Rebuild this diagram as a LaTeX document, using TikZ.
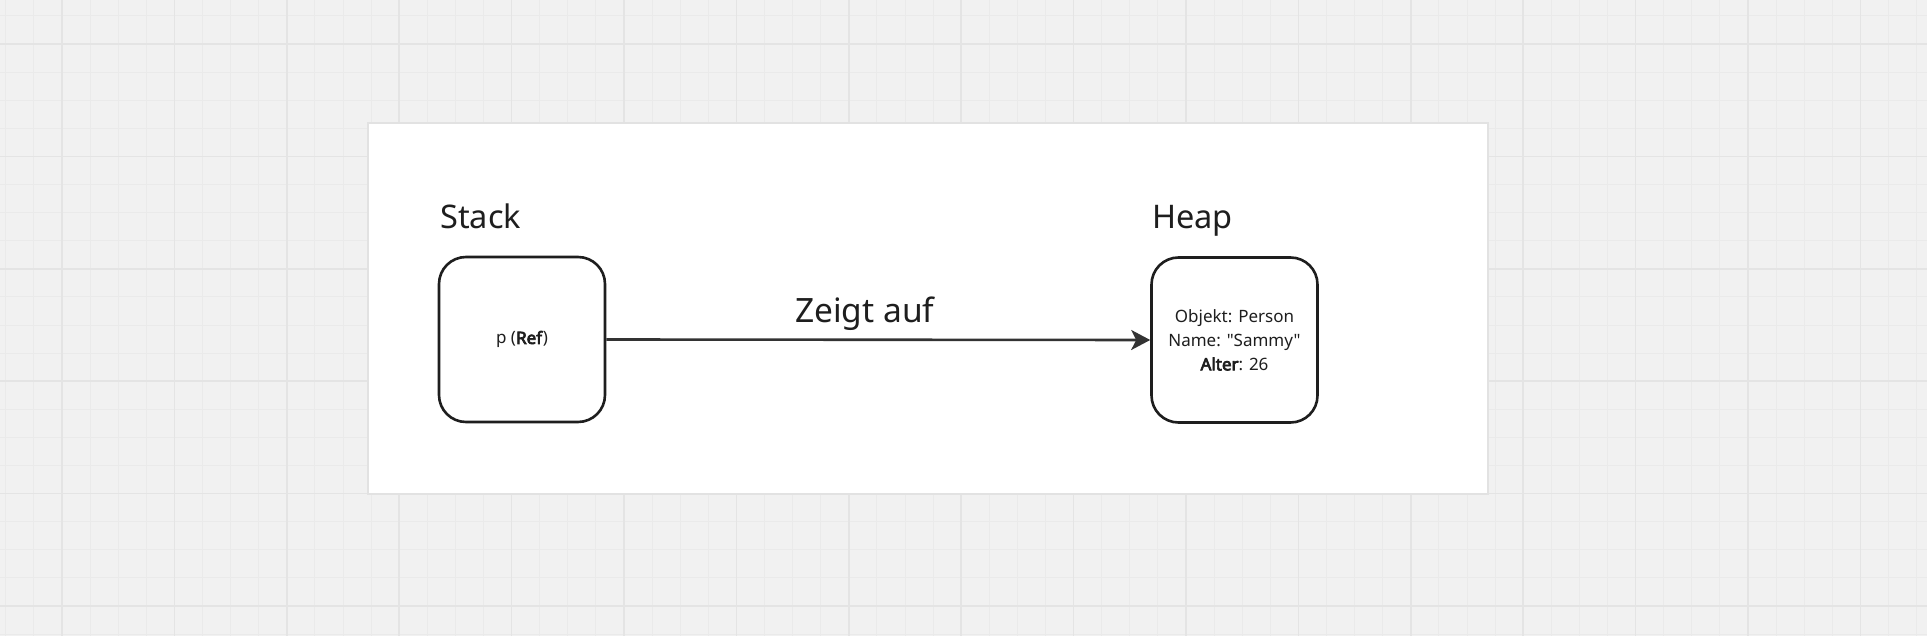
\documentclass[tikz,border=0pt]{standalone}
\usepackage{fontspec}
\setmainfont{Noto Sans}[Ligatures=TeXOff, BoldFont={Noto Sans}, BoldFeatures={FakeBold=4}]
\usepackage{tikz}
\usetikzlibrary{positioning}
\usetikzlibrary{arrows.meta}
\pgfdeclarelayer{background}
\pgfdeclarelayer{foreground}
\pgfsetlayers{background,main,foreground}
\definecolor{canvas}{HTML}{F1F1F1}
\definecolor{minorgrid}{HTML}{EAEAEA}
\definecolor{majorgrid}{HTML}{E4E4E4}
\definecolor{panelline}{HTML}{E2E2E2}
\definecolor{ink}{HTML}{1E1E1E}
\definecolor{arrowink}{HTML}{333333}

\begin{document}
\begin{tikzpicture}[x=1pt,y=-1pt,
					boxnode/.style={rectangle, rounded corners=27pt, draw=ink, line width=2.6pt, fill=white, minimum width=166pt, minimum height=165pt, text=ink, align=center, font=\fontsize{17}{24}\selectfont},
					titlenode/.style={anchor=base west, inner sep=0pt, text=ink, font=\fontsize{32.5}{36}\selectfont},
					]
					\useasboundingbox (0,0) rectangle (1927,636);
					\begin{pgfonlayer}{background}
					%Grid
					\fill[canvas] (0,0) rectangle (1927,636);
					\foreach \k in {-2,...,66} \draw[minorgrid, line width=1pt] ({62+28.1*\k},0) -- ({62+28.1*\k},636);
					\foreach \k in {-1,...,21} \draw[minorgrid, line width=1pt] (0,{44+28.1*\k}) -- (1927,{44+28.1*\k});
					\foreach \k in {0,...,16} \draw[majorgrid, line width=1.6pt] ({62+112.4*\k},0) -- ({62+112.4*\k},636);
					\foreach \k in {0,...,5} \draw[majorgrid, line width=1.6pt] (0,{44+112.4*\k}) -- (1927,{44+112.4*\k});
					%Panel
					\draw[panelline, fill=white, line width=1.2pt] (368,123) rectangle (1488,494);
					\end{pgfonlayer}
					%Nodes
					\node[boxnode]      (stack) 	at 	(522,339.5)     {p (\textbf{Ref})};
					\node[boxnode]      (heap)      at 	(1234.5,340)	{Objekt: Person\\Name: "Sammy"\\\textbf{Alter}: 26};
					\node[titlenode]    (stacktitle) at (440,229)	{Stack};
					\node[titlenode]    (heaptitle)  at (1152,229)	{Heap};
					%Lines
					\draw[arrowink, line width=2.6pt, -{Stealth[length=19pt, width=20pt, inset=5pt]}] (stack.east) -- node[pos=0.475, anchor=base, yshift=17pt, inner sep=0pt, text=ink, font=\fontsize{33.5}{36}\selectfont] (zeigt) {Zeigt auf} (heap.west);
				\end{tikzpicture}
\end{document}
